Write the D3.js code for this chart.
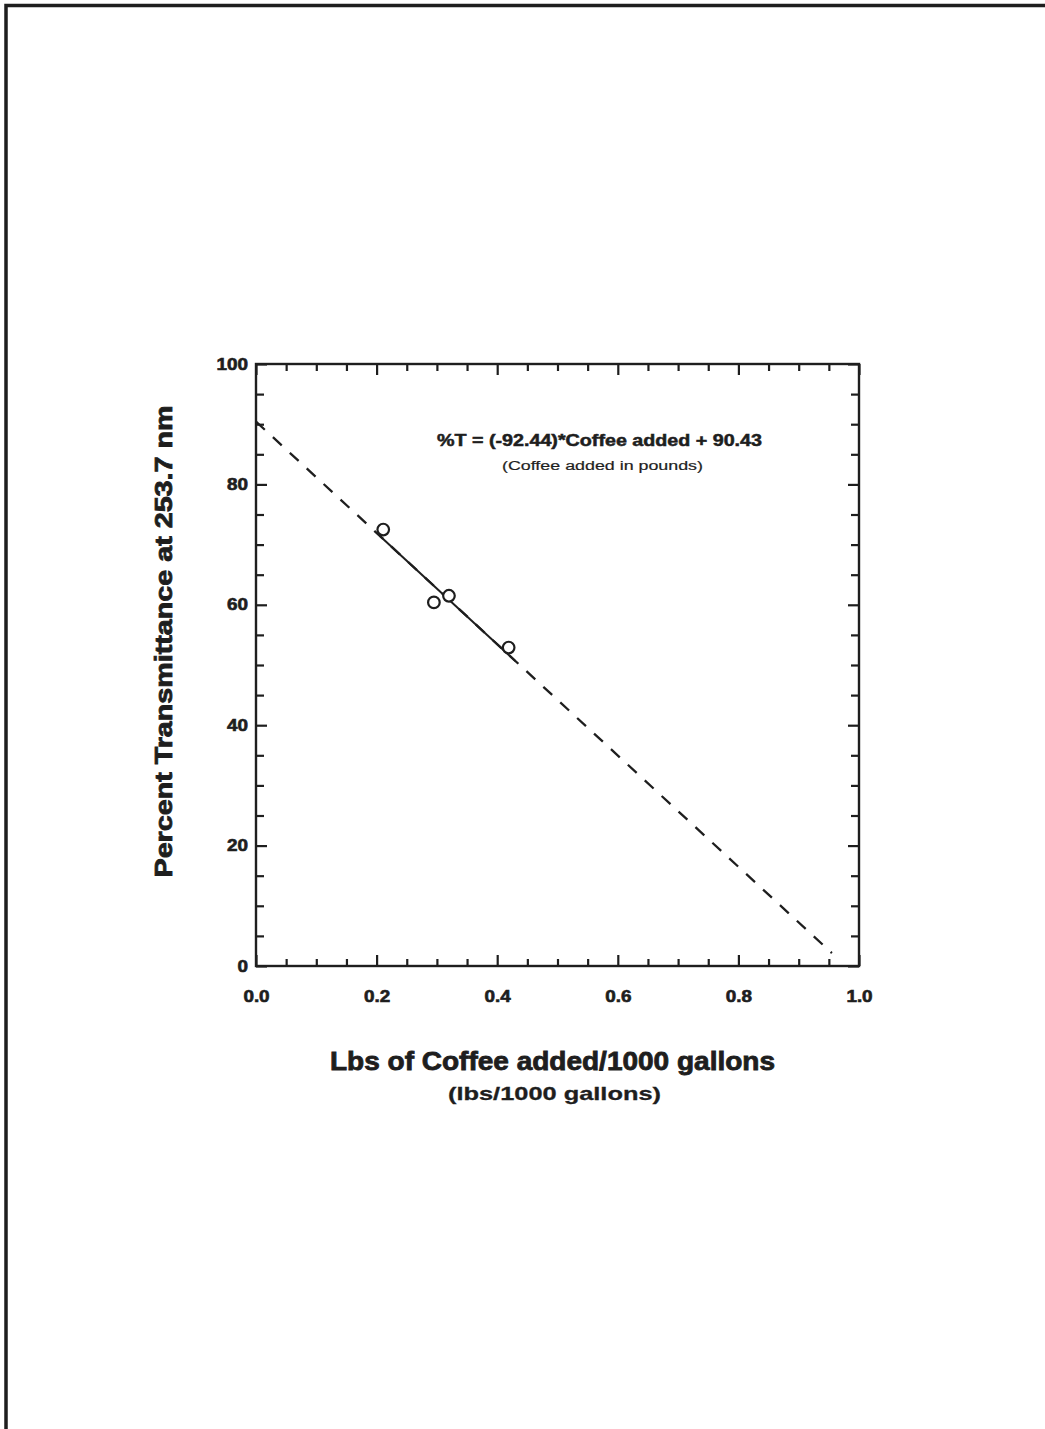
<!DOCTYPE html>
<html>
<head>
<meta charset="utf-8">
<script src="https://cdn.jsdelivr.net/npm/d3@7"></script>
<style>
  body { margin: 0; background: #fff; }
  svg text { font-family: "Liberation Sans", Arial, Helvetica, sans-serif; fill: #1e1e1e; }
</style>
</head>
<body>
<div id="chart"></div>
<script>
// data
var coffee = [0.211, 0.295, 0.320, 0.419];
var transmittance = [72.5, 60.4, 61.5, 52.9];
var fitSlope = -92.44, fitIntercept = 90.43;
var fitRange = [0, 0.955];      // dashed extrapolation
var fitSolid = [0.205, 0.43];   // solid part over the data
var xMajor = [0, 0.2, 0.4, 0.6, 0.8, 1.0];
var yMajor = [0, 20, 40, 60, 80, 100];

var W = 1045, H = 1429;
var ink = "#1e1e1e";
// horizontal stretch of the glyphs in the original scan
var stretch = 1.18;

var svg = d3.select("#chart").append("svg")
    .attr("width", W)
    .attr("height", H);

// page border (top and left only)
svg.append("path")
    .attr("d", "M6,1429V5.5H1045")
    .attr("fill", "none")
    .attr("stroke", ink)
    .attr("stroke-width", 3.5);

var x = d3.scaleLinear().domain([0, 1]).range([256, 859]);
var y = d3.scaleLinear().domain([0, 100]).range([966, 364]);

function fitY(v) { return fitSlope * v + fitIntercept; }

var minorX = d3.range(0, 1.0001, 0.05).filter(function (d) { return Math.abs(d * 5 - Math.round(d * 5)) > 1e-6; });
var minorY = d3.range(0, 100.001, 5).filter(function (d) { return d % 20 !== 0; });

function styleAxis(g) {
  g.select(".domain").remove();
  g.selectAll(".tick line").attr("stroke", ink).attr("stroke-width", 2.2);
}

// minor ticks, all four sides, pointing inward
svg.append("g").attr("transform", "translate(0," + y(0) + ")")
    .call(d3.axisBottom(x).tickValues(minorX).tickSize(-7).tickFormat("")).call(styleAxis);
svg.append("g").attr("transform", "translate(0," + y(100) + ")")
    .call(d3.axisTop(x).tickValues(minorX).tickSize(-7).tickFormat("")).call(styleAxis);
svg.append("g").attr("transform", "translate(" + x(0) + ",0)")
    .call(d3.axisLeft(y).tickValues(minorY).tickSize(-8).tickFormat("")).call(styleAxis);
svg.append("g").attr("transform", "translate(" + x(1) + ",0)")
    .call(d3.axisRight(y).tickValues(minorY).tickSize(-8).tickFormat("")).call(styleAxis);

// major ticks
var xAxis = svg.append("g").attr("transform", "translate(0," + y(0) + ")")
    .call(d3.axisBottom(x).tickValues(xMajor).tickSize(-11).tickPadding(25).tickFormat(d3.format(".1f")))
    .call(styleAxis);
svg.append("g").attr("transform", "translate(0," + y(100) + ")")
    .call(d3.axisTop(x).tickValues(xMajor).tickSize(-11).tickFormat("")).call(styleAxis);
var yAxis = svg.append("g").attr("transform", "translate(" + x(0) + ",0)")
    .call(d3.axisLeft(y).tickValues(yMajor).tickSize(-11).tickPadding(8).tickFormat(d3.format("d")))
    .call(styleAxis);
svg.append("g").attr("transform", "translate(" + x(1) + ",0)")
    .call(d3.axisRight(y).tickValues(yMajor).tickSize(-11).tickFormat("")).call(styleAxis);

[xAxis, yAxis].forEach(function (g) {
  g.selectAll(".tick text")
      .attr("font-family", null)
      .attr("font-size", 16)
      .attr("font-weight", "bold")
      .attr("fill", ink)
      .attr("stroke", ink)
      .attr("stroke-width", 0.6)
      .each(function () {
        var len = this.getComputedTextLength();
        d3.select(this).attr("textLength", len * stretch).attr("lengthAdjust", "spacingAndGlyphs");
      });
});

// frame
svg.append("rect")
    .attr("x", x(0)).attr("y", y(100))
    .attr("width", x(1) - x(0)).attr("height", y(0) - y(100))
    .attr("fill", "none")
    .attr("stroke", ink)
    .attr("stroke-width", 2.4);

// regression line
var line = d3.line().x(function (d) { return x(d); }).y(function (d) { return y(fitY(d)); });
svg.append("path")
    .attr("d", line(fitRange))
    .attr("fill", "none")
    .attr("stroke", ink)
    .attr("stroke-width", 2.3)
    .attr("stroke-dasharray", "12,11");
svg.append("path")
    .attr("d", line(fitSolid))
    .attr("fill", "none")
    .attr("stroke", ink)
    .attr("stroke-width", 2);

// data points
svg.append("g").selectAll("circle")
    .data(coffee)
    .enter()
    .append("circle")
    .attr("cx", function (d) { return x(d); })
    .attr("cy", function (d, i) { return y(transmittance[i]); })
    .attr("r", 5.8)
    .attr("fill", "#fff")
    .attr("stroke", ink)
    .attr("stroke-width", 2.2);

// texts
function label(txt, cx, cy, size, weight, len, heavy, rotate) {
  var t = svg.append("text")
      .attr("text-anchor", "middle")
      .attr("font-size", size)
      .attr("font-weight", weight)
      .attr("textLength", len)
      .attr("lengthAdjust", "spacingAndGlyphs")
      .text(txt);
  if (heavy) t.attr("stroke", ink).attr("stroke-width", heavy);
  if (rotate) t.attr("transform", "translate(" + cx + "," + cy + ") rotate(-90)");
  else t.attr("x", cx).attr("y", cy);
  return t;
}

label("%T = (-92.44)*Coffee added + 90.43", 599.5, 446, 16, "bold", 325, 0.5);
label("(Coffee added in pounds)", 602.5, 470, 12.5, "normal", 201, 0.2).attr("fill", "#333");
label("Lbs of Coffee added/1000 gallons", 552.5, 1070, 25, "bold", 445, 0.8);
label("(lbs/1000 gallons)", 554.5, 1100, 19, "bold", 213, 0.3).attr("fill", "#333");
label("Percent Transmittance at 253.7 nm", 172, 641.5, 23.5, "bold", 472, 0.8, true);
</script>
</body>
</html>
